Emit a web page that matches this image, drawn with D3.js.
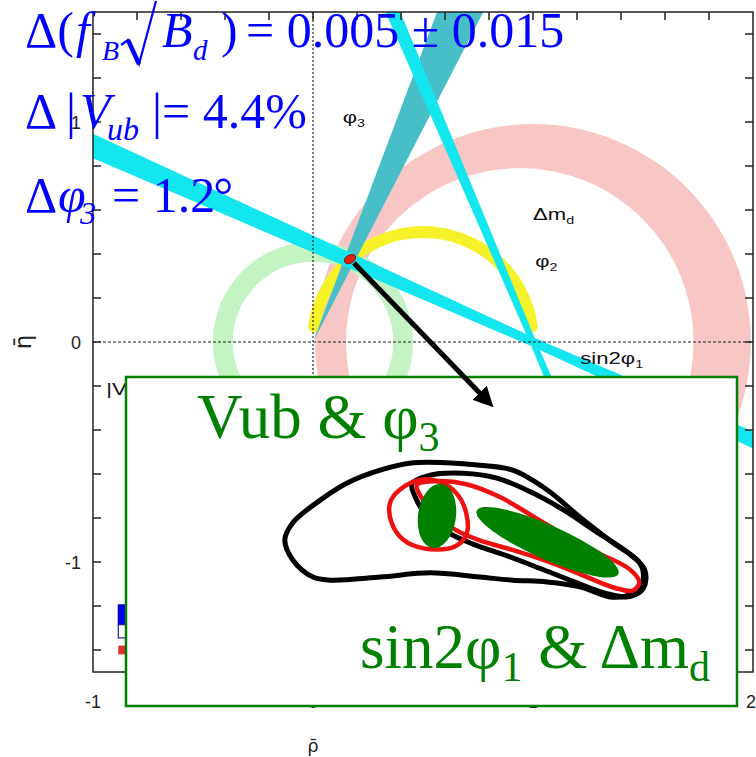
<!DOCTYPE html>
<html>
<head>
<meta charset="utf-8">
<script src="https://cdn.jsdelivr.net/npm/d3@7"></script>
<style>
  body { margin: 0; background: #fff; }
  svg { display: block; }
</style>
</head>
<body>
<svg id="chart" width="756" height="757"></svg>
<script>
// ---------- axes ----------
const rhoDomain = [-1, 2];
const etaDomain = [-1.5, 1.5];
const xTickLabels = [-1, 0, 1, 2];
const yTickLabels = [-1, 0, 1];
const tickStep = 0.2;

// ---------- constraints in the (rho-bar, eta-bar) plane ----------
const dmdOuter = { center: [1, 0], r: 0.99 };     // Delta m_d band: outer boundary
const dmdInner = { center: [0.94, 0], r: 0.79 };  // Delta m_d band: inner boundary
const vubCenter = [0, 0];            // |Vub/Vcb| circle
const vubRadii = [0.365, 0.455];
const phi2Center = [0.5, 0];         // phi2 arc
const phi2Radii = [0.473, 0.527];
const phi2Span = [5, 175];           // degrees
const phi3Angles = [62.7, 69.4];     // wedge from the origin, degrees
const sin2phi1Vertex = [1, 0];
// centre angle above the -rho direction, angular half-width (deg), half-width at the vertex
const sin2phi1Shallow = [24.0, 0.8, 0.02];
const sin2phi1Steep = [67.0, 0.6, 0.014];
const apex = [0.168, 0.377];
const arrowEnd = [0.795, -0.27];

// ---------- plot labels ----------
const bandLabels = [
  { pos: [0.135, 0.995], main: "φ", sub: "3" },
  { pos: [1.00, 0.555], main: "Δm", sub: "d" },
  { pos: [1.01, 0.34], main: "φ", sub: "2" },
  { pos: [1.215, -0.10], main: "sin2φ", sub: "1" },
  { pos: [-0.94, -0.24], main: "|V", sub: "ub", rest: "/V", sub2: "cb", tail: "|" }
];
const legendItems = [
  { eta: -1.195, h: 0.09, fill: "#0000ee", stroke: "#0000aa" },
  { eta: -1.285, h: 0.06, fill: "#ffffff", stroke: "#1a1aa0" },
  { eta: -1.38, h: 0.04, fill: "#e03030", stroke: "none" }
];

// ---------- inset: fit contours (normalised inset units) ----------
const insetDomainX = [0, 100];
const insetDomainY = [0, 53.85];
const outerBlack = [[26.0,27.2],[27.3,30.0],[31.8,33.7],[36.2,36.5],[41.6,38.6],[47.0,39.8],[52.5,39.8],[57.9,39.4],[63.3,38.6],[68.9,35.4],[74.3,30.9],[79.7,26.7],[84.1,23.4],[84.6,20.6],[83.0,18.5],[79.7,17.8],[74.3,19.5],[68.9,20.3],[63.3,20.6],[57.9,21.1],[49.8,21.8],[41.6,21.1],[33.4,20.6],[30.6,21.1],[27.3,23.9]];
const innerBlack = [[46.8,36.4],[49.8,37.8],[55.2,38.1],[60.7,37.3],[66.1,35.1],[71.6,32.1],[77.0,28.5],[81.9,25.3],[84.9,22.3],[84.7,19.3],[82.5,17.9],[78.7,18.4],[73.2,20.4],[67.8,22.5],[62.3,24.6],[56.8,26.5],[52.5,28.5],[49.2,31.2],[47.3,34.3]];
const redLeft = [[43.2,33.2],[44.8,35.4],[48.1,37.0],[51.4,36.7],[54.1,34.8],[55.7,31.5],[55.7,28.0],[53.6,26.0],[48.7,25.8],[45.4,27.2],[43.5,29.9]];
const redLong = [[47.6,36.2],[50.8,36.8],[55.7,36.3],[61.2,34.2],[66.7,31.0],[72.1,27.8],[77.6,24.9],[82.4,22.4],[84.0,20.3],[83.0,18.9],[79.8,19.4],[74.3,21.6],[68.9,23.7],[63.4,25.5],[57.9,27.1],[53.8,28.9],[50.3,31.8],[48.2,34.4]];
// ellipses: centre u, v, semi-axes, tilt (deg)
const greenEllipses = [
  { c: [50.9, 31.1], r: [3.1, 5.3], tilt: 8 },
  { c: [69.0, 26.8], r: [12.7, 2.8], tilt: 24 }
];

// ---------- drawing ----------
const svg = d3.select("#chart");
const x = d3.scaleLinear().domain(rhoDomain).range([93, 753]);
const y = d3.scaleLinear().domain(etaDomain).range([672, 12]);
const k = x(1) - x(0);
const rad = d => d * Math.PI / 180;

svg.append("rect").attr("width", 756).attr("height", 757).attr("fill", "#fff");

svg.append("clipPath").attr("id", "plotClip")
  .append("rect").attr("x", x(-1)).attr("y", y(1.5))
  .attr("width", x(2) - x(-1)).attr("height", y(-1.5) - y(1.5));

const plot = svg.append("g").attr("clip-path", "url(#plotClip)");

// Delta m_d band: region between two circles
{
  const p = d3.path();
  [dmdOuter, dmdInner].forEach(c => {
    const cx = x(c.center[0]), cy = y(c.center[1]), r = c.r * k;
    p.moveTo(cx + r, cy);
    p.arc(cx, cy, r, 0, 2 * Math.PI);
    p.closePath();
  });
  plot.append("path").attr("d", p.toString()).attr("fill-rule", "evenodd").attr("fill", "#f9c6c6");
}

// |Vub/Vcb| ring
plot.append("path")
  .attr("transform", `translate(${x(vubCenter[0])},${y(vubCenter[1])})`)
  .attr("d", d3.arc()({ innerRadius: vubRadii[0] * k, outerRadius: vubRadii[1] * k, startAngle: 0, endAngle: 2 * Math.PI }))
  .attr("fill", "#c4f4c4");

// phi2 arc
plot.append("path")
  .attr("transform", `translate(${x(phi2Center[0])},${y(phi2Center[1])})`)
  .attr("d", d3.arc().cornerRadius((phi2Radii[1] - phi2Radii[0]) * k / 2)({
    innerRadius: phi2Radii[0] * k, outerRadius: phi2Radii[1] * k,
    startAngle: rad(90 - phi2Span[1]), endAngle: rad(90 - phi2Span[0])
  }))
  .attr("fill", "#f6f22a");

const poly = d3.line().x(d => x(d[0])).y(d => y(d[1]));
const far = 4;

// phi3 wedge
plot.append("path")
  .attr("d", poly([[0, 0],
    [far * Math.cos(rad(phi3Angles[0])), far * Math.sin(rad(phi3Angles[0]))],
    [far * Math.cos(rad(phi3Angles[1])), far * Math.sin(rad(phi3Angles[1]))]]) + "Z")
  .attr("fill", "#48bfc8");

// sin2phi1 bands through (1,0), widening away from the vertex on both sides
function band([theta, delta, w]) {
  const [vx, vy] = sin2phi1Vertex;
  const d = t => [-Math.cos(rad(t)), Math.sin(rad(t))];
  const n = [Math.sin(rad(theta)), Math.cos(rad(theta))];
  const pP = [vx + n[0] * w, vy + n[1] * w];
  const pM = [vx - n[0] * w, vy - n[1] * w];
  const add = (p, v, s) => [p[0] + s * v[0], p[1] + s * v[1]];
  return poly([
    add(pP, d(theta + delta), far), pP, add(pP, d(theta - delta), -far),
    add(pM, d(theta + delta), -far), pM, add(pM, d(theta - delta), far)
  ]) + "Z";
}
plot.append("path").attr("d", band(sin2phi1Shallow)).attr("fill", "#14e6ef");
plot.append("path").attr("d", band(sin2phi1Steep)).attr("fill", "#14e6ef");

// zero lines
plot.append("line").attr("x1", x(0)).attr("x2", x(0)).attr("y1", y(1.5)).attr("y2", y(-1.5))
  .attr("stroke", "#222").attr("stroke-width", 1.2).attr("stroke-dasharray", "2,2");
plot.append("line").attr("x1", x(-1)).attr("x2", x(2)).attr("y1", y(0)).attr("y2", y(0))
  .attr("stroke", "#222").attr("stroke-width", 1.2).attr("stroke-dasharray", "3,2");

// fit point
plot.append("ellipse")
  .attr("cx", x(apex[0])).attr("cy", y(apex[1])).attr("rx", 6).attr("ry", 4)
  .attr("transform", `rotate(-30,${x(apex[0])},${y(apex[1])})`)
  .attr("fill", "#e02010").attr("stroke", "#8a1a10").attr("stroke-width", 1);

// legend (lower left)
legendItems.forEach(d => {
  svg.append("rect").attr("x", x(-0.885)).attr("y", y(d.eta))
    .attr("width", 40).attr("height", d.h * k)
    .attr("fill", d.fill).attr("stroke", d.stroke).attr("stroke-width", 1.2);
});

// band labels (wide sans face)
const labelFont = "'Liberation Sans', Arial, Helvetica, sans-serif";
bandLabels.forEach(d => {
  const t = svg.append("text")
    .attr("transform", `translate(${x(d.pos[0])},${y(d.pos[1])}) scale(1.3,1)`)
    .attr("font-family", labelFont).attr("font-size", 17).attr("fill", "#111");
  t.append("tspan").text(d.main);
  t.append("tspan").attr("dy", 4).attr("font-size", 11).text(d.sub);
  if (d.rest) {
    t.append("tspan").attr("dy", -4).text(d.rest);
    t.append("tspan").attr("dy", 4).attr("font-size", 11).text(d.sub2);
    t.append("tspan").attr("dy", -4).text(d.tail);
  }
});

// frame and ticks
const frame = svg.append("g").attr("stroke", "#222").attr("stroke-width", 1.5).attr("fill", "none");
frame.append("rect").attr("x", x(-1)).attr("y", y(1.5)).attr("width", x(2) - x(-1)).attr("height", y(-1.5) - y(1.5));
const xTicks = d3.range(-0.8, 1.9, tickStep);
const yTicks = d3.range(-1.4, 1.5, tickStep);
const tl = 8;
xTicks.forEach(v => {
  frame.append("line").attr("x1", x(v)).attr("x2", x(v)).attr("y1", y(1.5)).attr("y2", y(1.5) + tl);
  frame.append("line").attr("x1", x(v)).attr("x2", x(v)).attr("y1", y(-1.5)).attr("y2", y(-1.5) - tl);
});
yTicks.forEach(v => {
  frame.append("line").attr("x1", x(-1)).attr("x2", x(-1) + tl).attr("y1", y(v)).attr("y2", y(v));
  frame.append("line").attr("x1", x(2)).attr("x2", x(2) - tl).attr("y1", y(v)).attr("y2", y(v));
});

// tick labels
xTickLabels.forEach(v => {
  svg.append("text").attr("x", x(v) - (v === 2 ? 2 : 0)).attr("y", 708).attr("text-anchor", "middle")
    .attr("font-family", labelFont).attr("font-size", 18).attr("fill", "#222").text(v);
});
yTickLabels.forEach(v => {
  svg.append("text").attr("x", 81).attr("y", y(v) + 7).attr("text-anchor", "end")
    .attr("font-family", labelFont).attr("font-size", 18).attr("fill", "#222").text(v);
});
// axis titles
const titleFont = "'DejaVu Sans', 'Liberation Sans', sans-serif";
svg.append("text").attr("x", x(0)).attr("y", 752).attr("text-anchor", "middle")
  .attr("font-family", titleFont).attr("font-size", 18).attr("fill", "#222")
  .text("ρ\u0304");
svg.append("text").attr("transform", `translate(31,${y(0)}) rotate(-90)`).attr("text-anchor", "middle")
  .attr("font-family", titleFont).attr("font-size", 23).attr("fill", "#222")
  .text("η\u0304");

// ---------- inset ----------
const bx0 = 126, bx1 = 737, by0 = 377, by1 = 706;
svg.append("rect").attr("x", bx0).attr("y", by0).attr("width", bx1 - bx0).attr("height", by1 - by0)
  .attr("fill", "#fff").attr("stroke", "#008000").attr("stroke-width", 2.5);

const ix = d3.scaleLinear().domain(insetDomainX).range([bx0, bx1]);
const iy = d3.scaleLinear().domain(insetDomainY).range([by1, by0]);
const ik = ix(1) - ix(0);
const contour = d3.line().x(d => ix(d[0])).y(d => iy(d[1])).curve(d3.curveCatmullRomClosed.alpha(0.5));

const inset = svg.append("g");
[[outerBlack, "#000", 5], [innerBlack, "#000", 5], [redLeft, "#ee1111", 4.5], [redLong, "#ee1111", 4.5]]
  .forEach(([pts, col, w]) => {
    inset.append("path").attr("d", contour(pts)).attr("fill", "none")
      .attr("stroke", col).attr("stroke-width", w).attr("stroke-linejoin", "round");
  });
greenEllipses.forEach(e => {
  inset.append("ellipse").attr("cx", ix(e.c[0])).attr("cy", iy(e.c[1]))
    .attr("rx", e.r[0] * ik).attr("ry", e.r[1] * ik)
    .attr("transform", `rotate(${e.tilt},${ix(e.c[0])},${iy(e.c[1])})`)
    .attr("fill", "#008000");
});

const serif = "'Liberation Serif', 'Times New Roman', Times, serif";
function richText(parent, xPos, yPos, size, color, runs) {
  const t = parent.append("text").attr("x", xPos).attr("y", yPos)
    .attr("font-family", serif).attr("font-size", size).attr("fill", color);
  runs.forEach(r => {
    const s = t.append("tspan").text(r.t);
    if (r.x !== undefined) s.attr("x", r.x);
    if (r.dx !== undefined) s.attr("dx", r.dx);
    if (r.dy !== undefined) s.attr("dy", r.dy);
    if (r.size) s.attr("font-size", r.size);
    if (r.it) s.attr("font-style", "italic");
  });
  return t;
}

richText(svg, 197, 438, 63, "#008000", [
  { t: "Vub & φ" }, { t: "3", dy: 13, size: 42 }
]);
richText(svg, 360, 668, 63, "#008000", [
  { t: "sin2φ" }, { t: "1", dy: 13, size: 42 }, { t: " & Δm", dy: -13 }, { t: "d", dy: 13, size: 42 }
]);

// arrow from the fit point into the inset
svg.append("defs").append("marker").attr("id", "head")
  .attr("viewBox", "0 0 10 10").attr("refX", 6).attr("refY", 5)
  .attr("markerWidth", 4).attr("markerHeight", 4).attr("orient", "auto")
  .append("path").attr("d", "M0,0 L10,5 L0,10 Z").attr("fill", "#000");
svg.append("line")
  .attr("x1", x(apex[0]) + 4).attr("y1", y(apex[1]) + 4)
  .attr("x2", x(arrowEnd[0])).attr("y2", y(arrowEnd[1]))
  .attr("stroke", "#000").attr("stroke-width", 5).attr("marker-end", "url(#head)");

// ---------- projected precision (blue) ----------
const blue = "#0000ff";
richText(svg, 25, 47, 50, blue, [
  { t: "Δ(" },
  { t: "f", it: true, x: 76 },
  { t: "B", it: true, size: 28, x: 102, dy: 13 },
  { t: "B", it: true, x: 162, dy: -13 },
  { t: "d", it: true, size: 29, x: 193, dy: 13 },
  { t: ")", x: 221, dy: -13 },
  { t: "= 0.005 ± 0.015", x: 246 }
]);
// radical sign
svg.append("path").attr("d", "M121,45 L128,40 L139,64 L156,1")
  .attr("fill", "none").attr("stroke", blue).attr("stroke-width", 2.2).attr("stroke-linejoin", "miter");
svg.append("path").attr("d", "M128,40 L139,64")
  .attr("stroke", blue).attr("stroke-width", 4.5);

richText(svg, 25, 128, 50, blue, [
  { t: "Δ" },
  { t: "|", x: 66 },
  { t: "V", it: true, x: 80 },
  { t: "ub", it: true, size: 32, x: 107, dy: 12 },
  { t: "|= 4.4%", x: 152, dy: -12 }
]);
richText(svg, 25, 212, 50, blue, [
  { t: "Δ" },
  { t: "φ", it: true, x: 58 },
  { t: "3", it: true, size: 32, x: 80, dy: 12 },
  { t: "= 1.2", x: 112, dy: -12 },
  { t: "°", dx: -2 }
]);
</script>
</body>
</html>
